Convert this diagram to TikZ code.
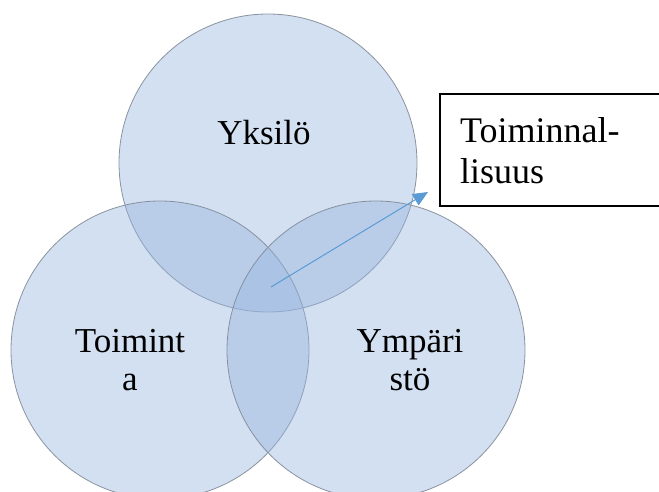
\documentclass[tikz,border=0pt]{standalone}
\usepackage{fontspec}
\setmainfont{Liberation Serif}
\usetikzlibrary{arrows.meta}
\definecolor{vennfill}{RGB}{150,180,222}
\definecolor{venndraw}{RGB}{128,138,150}
\definecolor{arrowblue}{RGB}{91,155,213}
\begin{document}
\begin{tikzpicture}[x=1pt,y=-1pt,
  venn/.style={circle,minimum size=298pt,inner sep=0pt,fill=vennfill,fill opacity=0.42,draw=venndraw,draw opacity=0.9,line width=0.8pt},
  lbl/.style={font=\fontsize{35}{38}\selectfont,text=black,align=center,inner sep=0pt,anchor=base},
  boxstyle/.style={draw=black,line width=1.3pt,fill=white}]
\useasboundingbox (0,0) rectangle (659,492);
\begin{scope}
\clip (0,0) rectangle (659,492);
\node[venn] (top) at (268,163) {};
\node[venn] (left) at (160,350) {};
\node[venn] (right) at (376,350) {};
\node[lbl] (yks) at (264,145) {Yksilö};
\node[lbl] (toi) at (130,390) {Toimint\\a};
\node[lbl] (ymp) at (410,390) {Ympäri\\stö};
\coordinate (start) at (271,287);
\coordinate (tip) at (428,192);
\draw[arrowblue,line width=1pt,-{Triangle[length=15pt,width=13pt]}] (start) -- (tip);
\path[boxstyle] (440,94) rectangle (680,206);
\node[font=\fontsize{36}{40}\selectfont,align=left,inner sep=0pt,anchor=base west] (fun) at (460,183) {Toiminnal-\\lisuus};
\end{scope}
\end{tikzpicture}
\end{document}
